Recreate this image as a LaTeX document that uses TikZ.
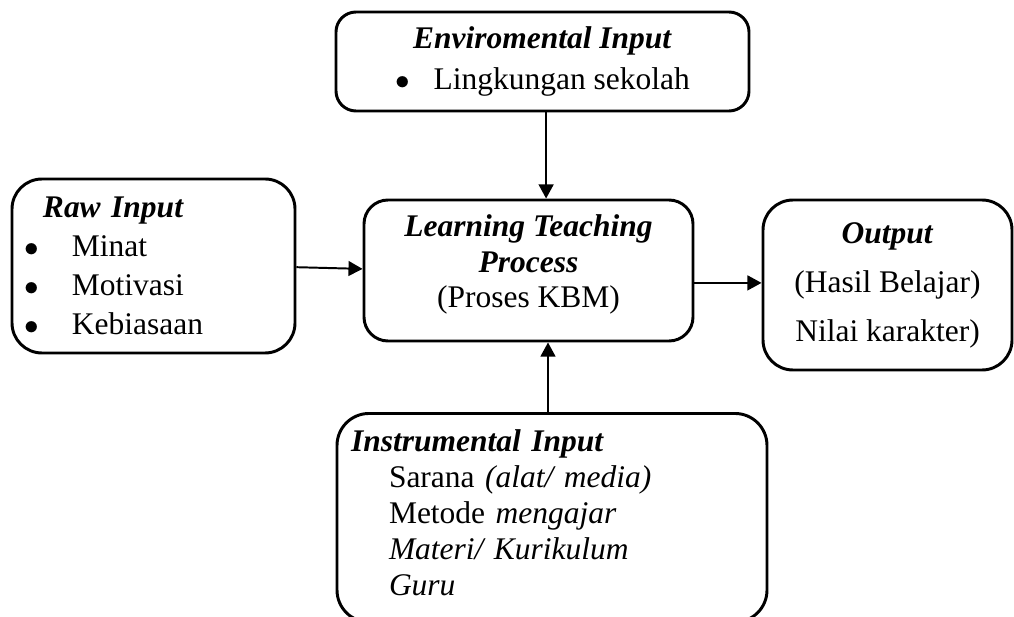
\documentclass[tikz,border=0pt]{standalone}
\usepackage{fontspec}
\setmainfont{Liberation Serif}
\usetikzlibrary{arrows.meta}
\usetikzlibrary{positioning}

\tikzset{
  kotak/.style={draw, line width=2.1pt, inner sep=0pt},
  panah/.style={line width=1.4pt, -{Triangle[length=10pt,width=10.5pt]}},
}
\newcommand{\judul}[1]{\textbf{\textit{#1}}}
\newcommand{\titik}{$\bullet$}

\begin{document}
\begin{tikzpicture}
    \useasboundingbox (0,0) rectangle (25.35,-15.425);

    \node[kotak, rounded corners=0.5cm, minimum width=10.325cm, minimum height=2.475cm, align=center, font={\fontsize{22.4pt}{29.2pt}\selectfont}] (env) at (13.5625,-1.5375) {\judul{Enviromental Input}\\ \titik\hspace{0.6cm}Lingkungan sekolah};

    \node[kotak, rounded corners=0.75cm, inner xsep=0.325cm, text width=6.425cm, minimum height=4.35cm, align=left, font={\fontsize{22.4pt}{27.7pt}\selectfont}] (raw) at (3.8375,-6.65) {\hspace*{0.45cm}\judul{Raw Input}\\
        \makebox[1.175cm][l]{\titik}Minat\\
        \makebox[1.175cm][l]{\titik}Motivasi\\
        \makebox[1.175cm][l]{\titik}Kebiasaan};

    \node[kotak, rounded corners=0.6cm, minimum width=8.225cm, minimum height=3.525cm, align=center, font={\fontsize{22.4pt}{25.3pt}\selectfont}] (lt) at (13.2125,-6.7625) {\judul{Learning Teaching}\\ \judul{Process}\\ (Proses KBM)\rule[-0.45cm]{0pt}{0pt}};

    \node[kotak, rounded corners=0.75cm, minimum width=6.225cm, minimum height=4.25cm, align=center, font={\fontsize{22.4pt}{34.9pt}\selectfont}] (out) at (22.1875,-7.125) {\judul{Output}\\ (Hasil Belajar)\\ Nilai karakter)};

    \node[kotak, rounded corners=0.8cm, anchor=north, inner xsep=0.35cm, inner ysep=0.4cm, text width=10.05cm, align=left, font={\fontsize{22.4pt}{25.6pt}\selectfont}] (ins) at (13.8,-10.3) {\judul{Instrumental Input}\\
        \hspace*{0.95cm}Sarana \textit{(alat/ media)}\\
        \hspace*{0.95cm}Metode \textit{mengajar}\\
        \hspace*{0.95cm}\textit{Materi/ Kurikulum}\\
        \hspace*{0.95cm}\textit{Guru}\strut};

    \draw[panah] ([xshift=0.09cm]env.south) -- ([xshift=0.09cm]env.south |- lt.north);
    \draw[panah] ([yshift=-0.03cm]raw.east) -- ([yshift=0.04cm]lt.west);
    \draw[panah] ([yshift=-0.31cm]lt.east) -- ([yshift=-0.31cm]lt.east -| out.west);
    \draw[panah] ([xshift=-0.1cm]ins.north) -- ([xshift=-0.1cm]ins.north |- lt.south);
\end{tikzpicture}
\end{document}
